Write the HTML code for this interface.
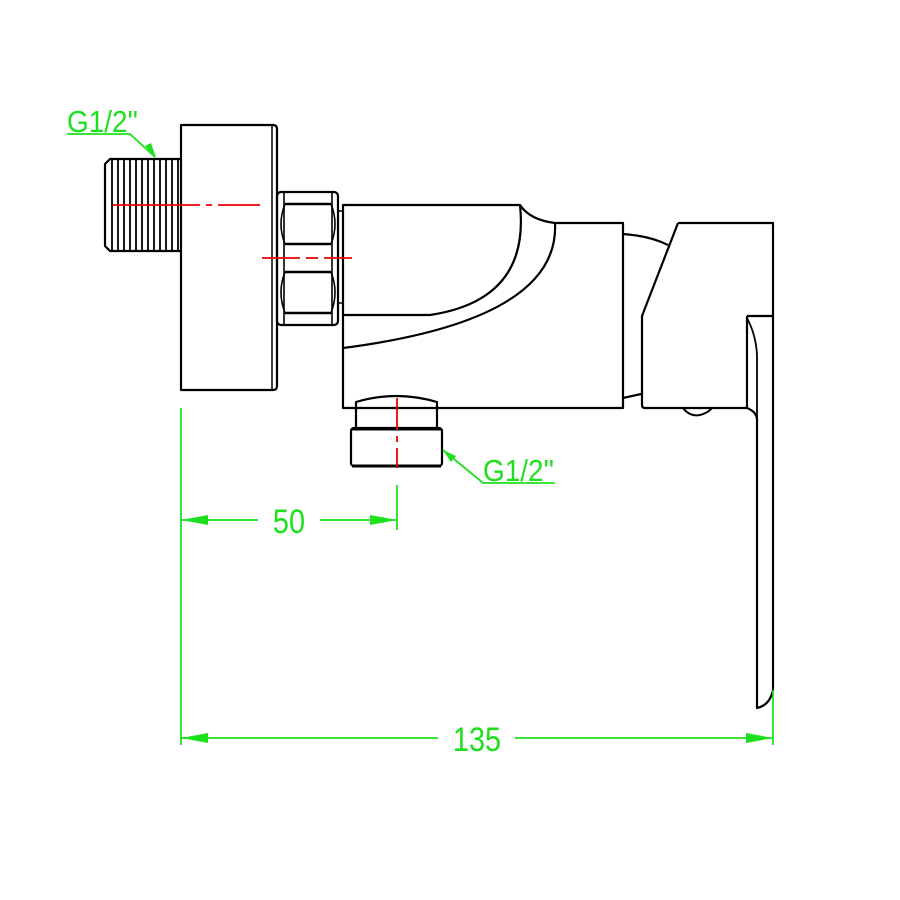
<!DOCTYPE html>
<html><head><meta charset="utf-8"><style>html,body{margin:0;padding:0;background:#fff}svg{display:block}</style></head>
<body>
<svg width="900" height="900" viewBox="0 0 900 900" xmlns="http://www.w3.org/2000/svg">
<g fill="none" stroke="#000" stroke-width="2.2" stroke-linejoin="round">
<!-- thread -->
<path d="M181 159 H110 L105 164 V246 L110 251 H181"/>
<g stroke-width="1.8">
<path d="M112 160V250M118 160V250M124 160V250M130 160V250M136 160V250M142 160V250M148 160V250M154 160V250M160 160V250M166 160V250M172 160V250M178 160V250"/>
</g>
<!-- flange -->
<path d="M181 125 H273 Q277 125 277 129 V386 Q277 390 273 390 H181 Z"/>
<path d="M272 126 V389" stroke-width="1.5"/>
<!-- hex nut -->
<rect x="277" y="192" width="61" height="133" rx="4"/>
<path d="M284 193 V324 M332 193 V324" stroke-width="1.6"/>
<path d="M285 204 H331 M285 244 H331 M285 272 H331 M285 313 H331" stroke-width="2.5"/>
<path d="M285 204 Q277 224 285 244 M331 204 Q339 224 331 244 M285 272 Q277 292 285 313 M331 272 Q339 292 331 313" stroke-width="1.6"/>
<path d="M338 211 H343 M338 303 H343" stroke-width="1.5"/>
<!-- body -->
<path d="M343 205 H520 Q530 220 555 223 H623 V408 H343 Z"/>
<path d="M520 205 Q530 300 430 315 H343"/>
<path d="M555 223 Q560 320 343 348"/>
<path d="M623 234 Q650 236 668 245"/>
<path d="M623 398 L641 394"/>
<!-- lever block -->
<path d="M678 223 H773 V316 M678 223 L642 316 V405 Q642 408 645 408 H747"/>
<path d="M683 408 Q690 417 700 415 Q708 413 712 408" stroke-width="2"/>
<!-- handle -->
<path d="M747 316 H773 V690 Q770 705 757 708 V420 Q757 412 747 408 V316"/>
<path d="M747 318 Q756 335 757 355 V420" stroke-width="1.8"/>
<!-- outlet -->
<path d="M356 408 V402 Q396 390 437 402 V408 M356 408 V428 M437 408 V428"/>
<rect x="351" y="428" width="91" height="38" rx="3"/>
<path d="M352 466 H441" stroke-width="3"/>
<path d="M352 429 H441" stroke-width="3"/>
</g>
<!-- center lines -->
<g stroke="#e00" stroke-width="1.8" fill="none">
<path d="M113 205 H200 M206 205 H212 M218 205 H260" />
<path d="M262 258 H300 M306 258 H318 M324 258 H352"/>
<path d="M397 398 V430 M397 436 V442 M397 448 V468"/>
</g>
<!-- dimensions -->
<g stroke="#1de01d" stroke-width="1.8" fill="none">
<path d="M181 408 V745"/>
<path d="M397 485 V530"/>
<path d="M773 690 V745"/>
<path d="M181 520 H258 M320 520 H397"/>
<path d="M181 738 H438 M515 738 H773"/>
<path d="M67 134 H130 L155 157"/>
<path d="M443 450 L483 483 H555"/>
</g>
<g fill="#1de01d">
<path d="M181 520 L208 515 L208 525Z M397 520 L370 515 L370 525Z"/>
<path d="M181 738 L208 733 L208 743Z M773 738 L746 733 L746 743Z"/>
<path d="M156 158 L145 146 L151 143Z"/>
<path d="M443 450 L456 456 L451 462Z"/>
</g>
<g fill="#1de01d" font-family="Liberation Sans Narrow, Liberation Sans, sans-serif">
<text x="289" y="533" font-size="34" text-anchor="middle" transform="translate(289 0) scale(0.85 1) translate(-289 0)">50</text>
<text x="477" y="751" font-size="34" text-anchor="middle" transform="translate(477 0) scale(0.85 1) translate(-477 0)">135</text>
<text x="67" y="132" font-size="31" transform="translate(67 0) scale(0.9 1) translate(-67 0)">G1/2''</text>
<text x="483" y="481" font-size="31" transform="translate(483 0) scale(0.9 1) translate(-483 0)">G1/2''</text>
</g>
</svg>
</body></html>
